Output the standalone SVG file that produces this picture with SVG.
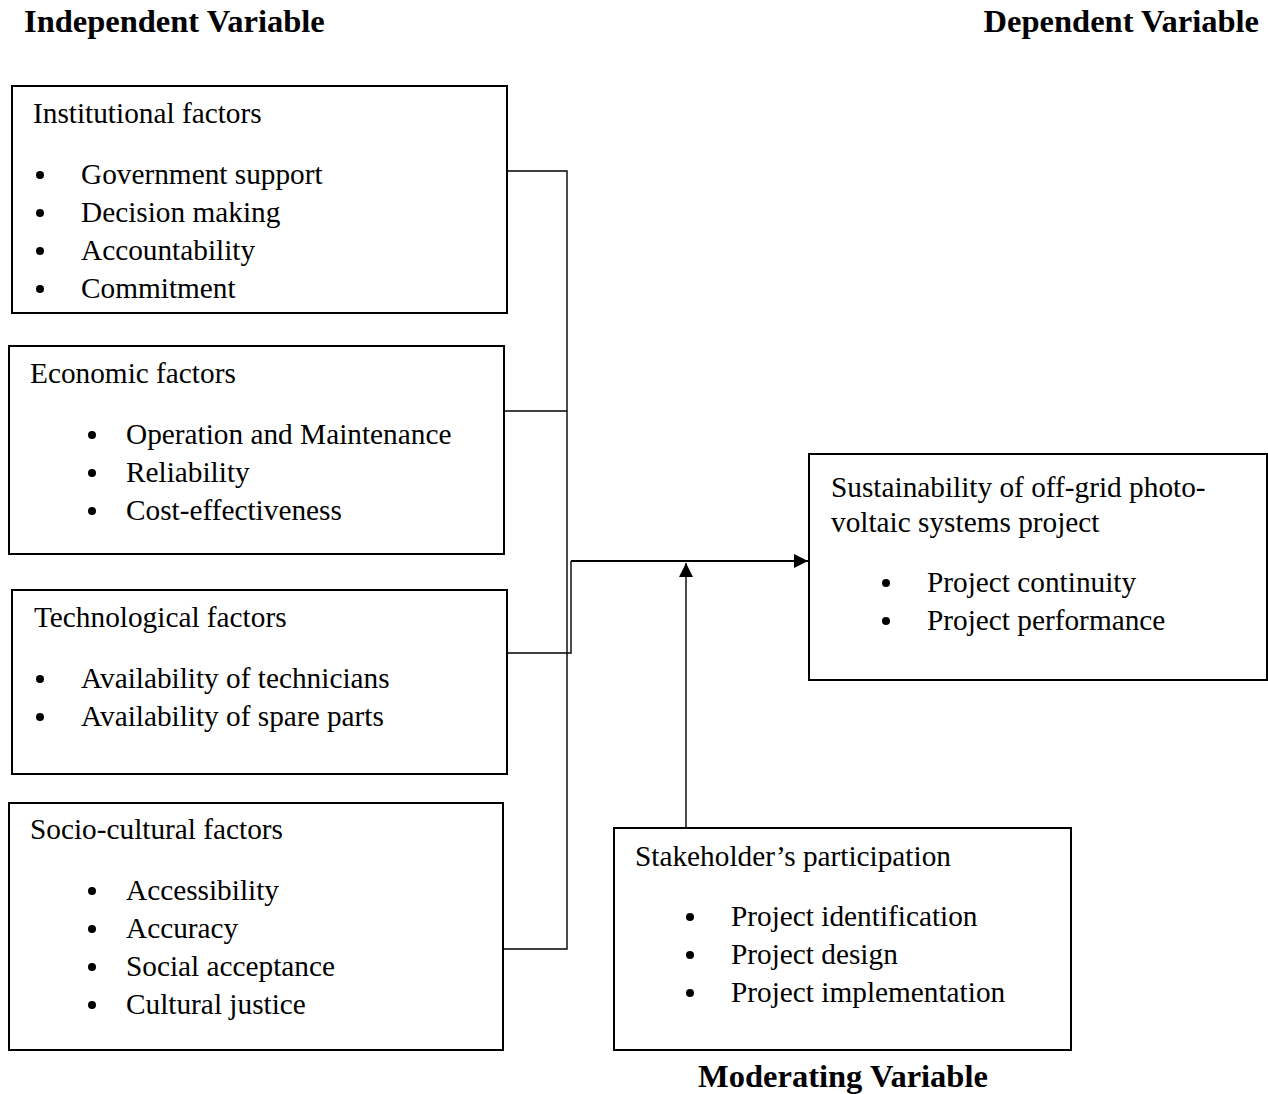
<svg xmlns="http://www.w3.org/2000/svg" width="1268" height="1094" viewBox="0 0 1268 1094">
<style>
text{font-family:"Liberation Serif","Times New Roman",serif;font-size:29.3px;fill:#000}
.h{font-weight:bold;font-size:32.5px}
.box{fill:#fff;stroke:#000;stroke-width:2}
.c{fill:none;stroke:#000;stroke-width:1.4}
.a{fill:none;stroke:#000;stroke-width:2}
.b{fill:#000}
</style>
<defs>
<marker id="arr" viewBox="0 0 10 10" refX="10" refY="5" markerWidth="14" markerHeight="14" markerUnits="userSpaceOnUse" orient="auto">
<path d="M0,0 L10,5 L0,10 z" fill="#000"/>
</marker>
</defs>
<rect width="1268" height="1094" fill="#fff"/>
<text class="h" x="24" y="32">Independent Variable</text>
<text class="h" x="1259" y="32" text-anchor="end">Dependent Variable</text>
<text class="h" x="843" y="1087" text-anchor="middle">Moderating Variable</text>
<g id="connectors">
<polyline class="c" points="507,171 567,171 567,949 503,949"/>
<line class="c" x1="504" y1="411" x2="567" y2="411"/>
<polyline class="c" points="507,653 571,653 571,561"/>
<line class="a" x1="571" y1="561" x2="808" y2="561" marker-end="url(#arr)"/>
<line class="c" x1="686" y1="828" x2="686" y2="563" marker-end="url(#arr)"/>
</g>
<g id="institutional">
<rect class="box" x="12" y="86" width="495" height="227"/>
<text x="33" y="123">Institutional factors</text>
<circle class="b" cx="40" cy="175" r="4"/><text x="81" y="184">Government support</text>
<circle class="b" cx="40" cy="213" r="4"/><text x="81" y="222">Decision making</text>
<circle class="b" cx="40" cy="251" r="4"/><text x="81" y="260">Accountability</text>
<circle class="b" cx="40" cy="289" r="4"/><text x="81" y="298">Commitment</text>
</g>
<g id="economic">
<rect class="box" x="9" y="346" width="495" height="208"/>
<text x="30" y="383">Economic factors</text>
<circle class="b" cx="92" cy="435" r="4"/><text x="126" y="444">Operation and Maintenance</text>
<circle class="b" cx="92" cy="473" r="4"/><text x="126" y="482">Reliability</text>
<circle class="b" cx="92" cy="511" r="4"/><text x="126" y="520">Cost-effectiveness</text>
</g>
<g id="technological">
<rect class="box" x="12" y="590" width="495" height="184"/>
<text x="34" y="627">Technological factors</text>
<circle class="b" cx="40" cy="679" r="4"/><text x="81" y="688">Availability of technicians</text>
<circle class="b" cx="40" cy="717" r="4"/><text x="81" y="726">Availability of spare parts</text>
</g>
<g id="sociocultural">
<rect class="box" x="9" y="803" width="494" height="247"/>
<text x="30" y="839">Socio-cultural factors</text>
<circle class="b" cx="92" cy="891" r="4"/><text x="126" y="900">Accessibility</text>
<circle class="b" cx="92" cy="929" r="4"/><text x="126" y="938">Accuracy</text>
<circle class="b" cx="92" cy="967" r="4"/><text x="126" y="976">Social acceptance</text>
<circle class="b" cx="92" cy="1005" r="4"/><text x="126" y="1014">Cultural justice</text>
</g>
<g id="sustainability">
<rect class="box" x="809" y="454" width="458" height="226"/>
<text x="831" y="497">Sustainability of off-grid photo-</text>
<text x="831" y="532">voltaic systems project</text>
<circle class="b" cx="886" cy="583" r="4"/><text x="927" y="592">Project continuity</text>
<circle class="b" cx="886" cy="621" r="4"/><text x="927" y="630">Project performance</text>
</g>
<g id="stakeholder">
<rect class="box" x="614" y="828" width="457" height="222"/>
<text x="635" y="866">Stakeholder’s participation</text>
<circle class="b" cx="690" cy="917" r="4"/><text x="731" y="926">Project identification</text>
<circle class="b" cx="690" cy="955" r="4"/><text x="731" y="964">Project design</text>
<circle class="b" cx="690" cy="993" r="4"/><text x="731" y="1002">Project implementation</text>
</g>
</svg>
